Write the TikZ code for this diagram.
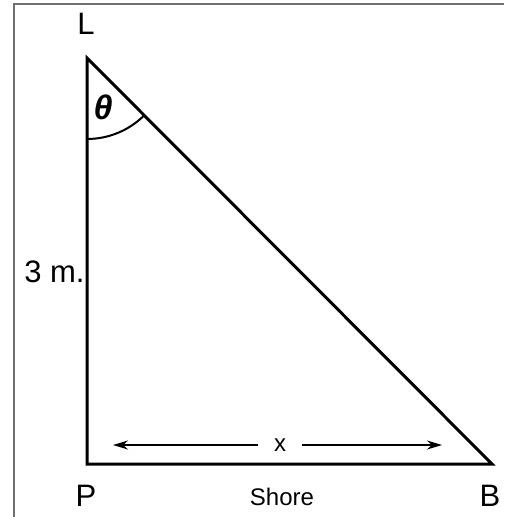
\documentclass[tikz,border=0pt]{standalone}
\usepackage{fontspec}
\setmainfont{Liberation Sans}
\usetikzlibrary{arrows.meta}
\usetikzlibrary{calc}
\definecolor{frameline}{HTML}{707070}
\tikzset{
  % the right triangle L-P-B
  side/.style={draw=black, line width=1.5pt, line join=miter},
  % vertex and side labels
  biglbl/.style={font=\fontsize{15.5}{18}\selectfont, inner sep=0pt},
  smalllbl/.style={font=\fontsize{12}{14}\selectfont, inner sep=0pt},
  % distance arrow along the shore
  dist/.style={-{Stealth[length=7.5pt, width=4.5pt]}, draw=black, line width=0.8pt},
}

\begin{document}
\begin{tikzpicture}[x=0.5pt, y=-0.5pt]

  \useasboundingbox (0,0) rectangle (504,517);
  \draw[frameline, line width=1pt] (14,517) -- (14,4) -- (504,4);

  \coordinate (L) at (87,58);
  \coordinate (P) at (87,464);
  \coordinate (B) at (492,464);
  \draw[side] (L) -- (P) -- (B) -- cycle;

  % angle at the lighthouse
  \draw[line width=1pt] ($(L)+(0,81)$) arc[start angle=90, end angle=45, radius=81];
  \node[biglbl, font=\fontsize{17}{20}\selectfont] (theta) at (103,107) {\bfseries\itshape θ};

  \node[biglbl] (lL) at (86,24) {L};
  \node[biglbl] (lP) at (86,496) {P};
  \node[biglbl] (lB) at (490,496) {B};
  \node[biglbl, anchor=east] (lh) at (85,272) {3 m.};
  \node[smalllbl] (shore) at (282,497) {Shore};

  \node[smalllbl, fill=white, inner xsep=8pt, inner ysep=3pt] (x) at (280,445) {x};
  \coordinate (xl) at (113,445);
  \coordinate (xr) at (442,445);
  \draw[dist] (x.west) -- (xl);
  \draw[dist] (x.east) -- (xr);

\end{tikzpicture}
\end{document}
